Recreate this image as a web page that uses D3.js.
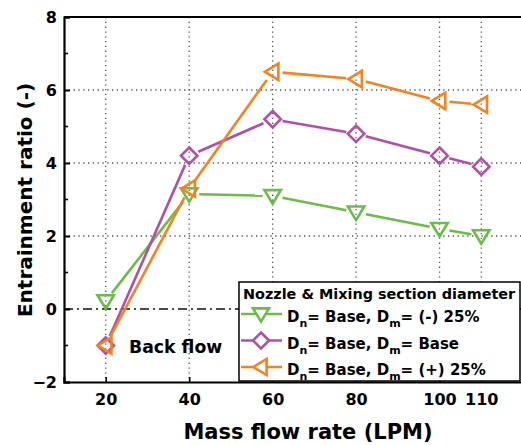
<!DOCTYPE html>
<html>
<head>
<meta charset="utf-8">
<script src="https://cdn.jsdelivr.net/npm/d3@7"></script>
<style>
  html, body { margin: 0; padding: 0; background: #fff; }
  svg { display: block; font-family: "DejaVu Sans", Verdana, sans-serif; font-weight: bold; }
</style>
</head>
<body>
<svg id="chart" width="521" height="445"></svg>
<script>
// Mass flow rate (LPM) at each measurement
const flowRates = [20, 40, 60, 80, 100, 110];
// Entrainment ratio for each mixing-section diameter
const ratioMinus25 = [0.22, 3.15, 3.1, 2.65, 2.2, 2.0];
const ratioBase = [-1.0, 4.2, 5.2, 4.8, 4.2, 3.9];
const ratioPlus25 = [-1.0, 3.3, 6.5, 6.3, 5.7, 5.6];

const xTicks = [20, 40, 60, 80, 100, 110];
const yTicks = [-2, 0, 2, 4, 6, 8];
const yMinorTicks = [-1, 1, 3, 5, 7];

const seriesNames = [
  { pre: "D", sub1: "n", mid: "= Base, D", sub2: "m", post: "= (-) 25%" },
  { pre: "D", sub1: "n", mid: "= Base, D", sub2: "m", post: "= Base" },
  { pre: "D", sub1: "n", mid: "= Base, D", sub2: "m", post: "= (+) 25%" }
];

const series = [
  { values: ratioMinus25, color: "#6cbd45", symbol: "down" },
  { values: ratioBase, color: "#b14ea6", symbol: "diamond" },
  { values: ratioPlus25, color: "#f7801f", symbol: "left" }
];

const svg = d3.select("#chart");
const plotL = 64, plotT = 17, plotR = 523, plotB = 382;

const x = d3.scaleLinear().domain([10, 120]).range([plotL, plotR]);
const y = d3.scaleLinear().domain([-2, 8]).range([plotB, plotT]);

// dotted grid
const grid = svg.append("g");
grid.selectAll("line.vx").data(xTicks).join("line")
  .attr("x1", d => x(d)).attr("x2", d => x(d))
  .attr("y1", plotT).attr("y2", plotB)
  .attr("stroke", "#555").attr("stroke-width", 1.3).attr("stroke-dasharray", "1.3,3.5");
grid.selectAll("line.hy").data([2, 4, 6]).join("line")
  .attr("x1", plotL).attr("x2", plotR)
  .attr("y1", d => y(d)).attr("y2", d => y(d))
  .attr("stroke", "#555").attr("stroke-width", 1.3).attr("stroke-dasharray", "1.3,3.5");

// zero reference line (dash-dot)
svg.append("line")
  .attr("x1", plotL).attr("x2", plotR)
  .attr("y1", y(0)).attr("y2", y(0))
  .attr("stroke", "#111").attr("stroke-width", 1.6)
  .attr("stroke-dasharray", "9,4,2,4");

// axes
const yAxis = d3.axisLeft(y).tickValues(yTicks).tickSize(-6).tickPadding(7).tickFormat(d3.format("d"));
const gy = svg.append("g").attr("transform", `translate(${plotL},0)`).call(yAxis);
gy.select(".domain").attr("stroke-width", 2.2);
gy.selectAll(".tick line").attr("stroke-width", 2);
gy.selectAll(".tick text").attr("font-size", 16).attr("font-weight", "bold")
  .attr("font-family", "DejaVu Sans, sans-serif").attr("fill", "#000");
svg.append("g").selectAll("line").data(yMinorTicks).join("line")
  .attr("x1", plotL).attr("x2", plotL + 4)
  .attr("y1", d => y(d)).attr("y2", d => y(d))
  .attr("stroke", "#000").attr("stroke-width", 1.6);

const xAxis = d3.axisBottom(x).tickValues(xTicks).tickSize(-5).tickPadding(12).tickFormat(d3.format("d"));
const gx = svg.append("g").attr("transform", `translate(0,${plotB})`).call(xAxis);
gx.select(".domain").attr("stroke-width", 2.2);
gx.selectAll(".tick line").attr("stroke-width", 1.6);
gx.selectAll(".tick text").attr("font-size", 16).attr("font-weight", "bold")
  .attr("font-family", "DejaVu Sans, sans-serif").attr("fill", "#000");

// top frame
svg.append("line").attr("x1", plotL).attr("x2", plotR)
  .attr("y1", plotT).attr("y2", plotT)
  .attr("stroke", "#000").attr("stroke-width", 2.2);

// axis titles
svg.append("text").attr("x", 308).attr("y", 439)
  .attr("text-anchor", "middle").attr("font-size", 21).text("Mass flow rate (LPM)");
svg.append("text").attr("transform", "translate(32,200) rotate(-90)")
  .attr("text-anchor", "middle").attr("font-size", 20).text("Entrainment ratio (-)");

// marker shapes
function markerPath(sym, r) {
  if (sym === "down") {
    return `M${-r},${-r * 0.7}L${r},${-r * 0.7}L0,${r * 0.95}Z`;
  } else if (sym === "diamond") {
    return `M0,${-r}L${r},0L0,${r}L${-r},0Z`;
  } else {
    return `M${-r * 0.95},0L${r * 0.7},${-r}L${r * 0.7},${r}Z`;
  }
}

// series lines (segments stop short of markers) and hollow markers
const gap = 10;
series.forEach(s => {
  const pts = flowRates.map((f, i) => [x(f), y(s.values[i])]);
  const segs = d3.pairs(pts).map(([a, b]) => {
    const dx = b[0] - a[0], dy = b[1] - a[1];
    const len = Math.hypot(dx, dy);
    const ux = dx / len, uy = dy / len;
    return [a[0] + ux * gap, a[1] + uy * gap, b[0] - ux * gap, b[1] - uy * gap];
  });
  const g = svg.append("g");
  g.selectAll("line").data(segs).join("line")
    .attr("x1", d => d[0]).attr("y1", d => d[1])
    .attr("x2", d => d[2]).attr("y2", d => d[3])
    .attr("stroke", s.color).attr("stroke-width", 2.6);
  g.selectAll("path").data(pts).join("path")
    .attr("transform", d => `translate(${d[0]},${d[1]})`)
    .attr("d", markerPath(s.symbol, 8.2))
    .attr("fill", "none").attr("stroke", s.color).attr("stroke-width", 2.6)
    .attr("stroke-linejoin", "miter");
});

// annotation
svg.append("text").attr("x", 129).attr("y", 353).attr("font-size", 17.3).text("Back flow");

// legend
const lg = svg.append("g");
lg.append("rect").attr("x", 239).attr("y", 282).attr("width", 281).attr("height", 99)
  .attr("fill", "#fff").attr("stroke", "#000").attr("stroke-width", 1.5);
lg.append("text").attr("x", 243).attr("y", 299).attr("font-size", 14.4)
  .text("Nozzle & Mixing section diameter");
series.forEach((s, i) => {
  const cy = 314 + i * 26.5;
  lg.append("line").attr("x1", 241).attr("x2", 282).attr("y1", cy).attr("y2", cy)
    .attr("stroke", s.color).attr("stroke-width", 2.6);
  lg.append("path").attr("transform", `translate(261,${cy})`)
    .attr("d", markerPath(s.symbol, 8))
    .attr("fill", "#fff").attr("stroke", s.color).attr("stroke-width", 2.6);
  const n = seriesNames[i];
  const t = lg.append("text").attr("x", 287).attr("y", cy + 8).attr("font-size", 15);
  t.append("tspan").text(n.pre);
  t.append("tspan").attr("font-size", 11).attr("dy", 5).text(n.sub1);
  t.append("tspan").attr("dy", -5).text(n.mid);
  t.append("tspan").attr("font-size", 11).attr("dy", 5).text(n.sub2);
  t.append("tspan").attr("dy", -5).text(n.post);
});
</script>
</body>
</html>
